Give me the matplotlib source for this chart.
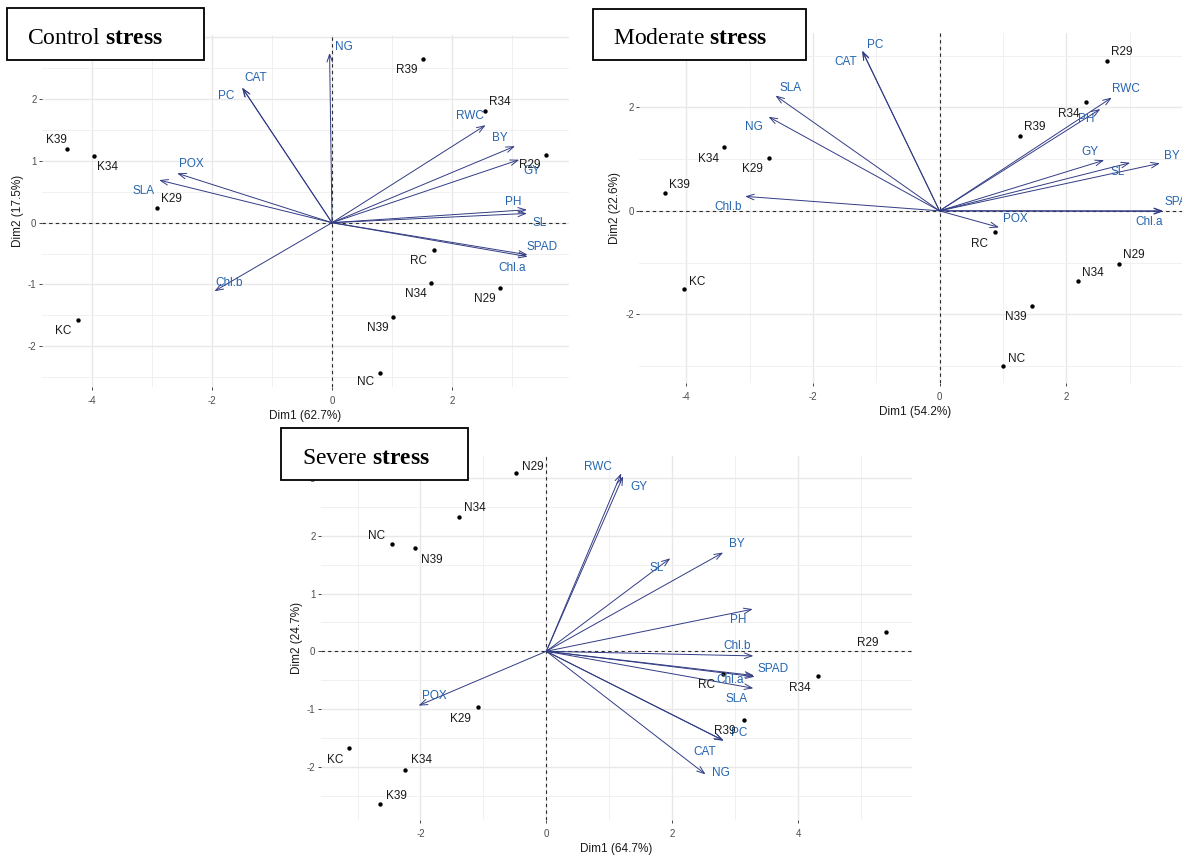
import numpy as np
import matplotlib.pyplot as plt
from matplotlib.patches import Rectangle
from matplotlib.ticker import MultipleLocator

plt.rcParams['font.family'] = 'Liberation Sans'
plt.rcParams['axes.unicode_minus'] = False
plt.rcParams['mathtext.fontset'] = 'custom'
plt.rcParams['mathtext.rm'] = 'Liberation Serif'
plt.rcParams['mathtext.bf'] = 'Liberation Serif:bold'

W, H = 1182, 855

# ---- Control ----
ctrl_obs = ['K39', 'K34', 'K29', 'KC', 'R39', 'R34', 'R29', 'RC', 'N34', 'N29', 'N39', 'NC']
ctrl_obs_x = [-4.42, -3.96, -2.92, -4.23, 1.52, 2.55, 3.57, 1.70, 1.65, 2.80, 1.02, 0.80]
ctrl_obs_y = [1.20, 1.08, 0.24, -1.58, 2.65, 1.81, 1.10, -0.44, -0.97, -1.06, -1.52, -2.44]
ctrl_var = ['NG', 'CAT', 'PC', 'POX', 'SLA', 'Chl.b', 'RWC', 'BY', 'GY', 'PH', 'SL', 'SPAD', 'Chl.a']
ctrl_var_x = [-0.04, -1.49, -1.50, -2.58, -2.88, -1.96, 2.56, 3.05, 3.12, 3.25, 3.25, 3.26, 3.26]
ctrl_var_y = [2.75, 2.18, 2.19, 0.80, 0.69, -1.11, 1.58, 1.24, 1.02, 0.21, 0.15, -0.52, -0.55]

# ---- Moderate ----
mod_obs = ['K34', 'K29', 'K39', 'KC', 'R29', 'R34', 'R39', 'RC', 'N29', 'N34', 'N39', 'NC']
mod_obs_x = [-3.40, -2.70, -4.34, -4.04, 2.64, 2.31, 1.27, 0.88, 2.83, 2.18, 1.46, 1.01]
mod_obs_y = [1.24, 1.03, 0.35, -1.51, 2.90, 2.10, 1.44, -0.41, -1.03, -1.35, -1.84, -3.00]
mod_var = ['PC', 'CAT', 'SLA', 'NG', 'Chl.b', 'RWC', 'PH', 'GY', 'SL', 'BY', 'SPAD', 'Chl.a', 'POX']
mod_var_x = [-1.22, -1.22, -2.59, -2.70, -3.07, 2.72, 2.54, 2.60, 3.01, 3.48, 3.53, 3.53, 0.94]
mod_var_y = [3.10, 3.09, 2.23, 1.82, 0.28, 2.19, 1.97, 0.98, 0.93, 0.92, 0.00, -0.01, -0.32]

# ---- Severe ----
sev_obs = ['N29', 'N34', 'NC', 'N39', 'K29', 'KC', 'K34', 'K39', 'R29', 'R34', 'RC', 'R39']
sev_obs_x = [-0.48, -1.39, -2.45, -2.09, -1.09, -3.14, -2.24, -2.65, 5.39, 4.32, 2.81, 3.14]
sev_obs_y = [3.08, 2.33, 1.86, 1.78, -0.97, -1.68, -2.05, -2.65, 0.33, -0.43, -0.40, -1.19]
sev_var = ['RWC', 'GY', 'BY', 'SL', 'PH', 'Chl.b', 'SPAD', 'Chl.a', 'SLA', 'PC', 'CAT', 'NG', 'POX']
sev_var_x = [1.19, 1.22, 2.81, 1.97, 3.28, 3.29, 3.31, 3.30, 3.29, 2.82, 2.81, 2.53, -2.03]
sev_var_y = [3.08, 3.03, 1.71, 1.61, 0.73, -0.08, -0.44, -0.42, -0.64, -1.55, -1.54, -2.13, -0.94]

# label offsets in pixels (dx, dy up)
ctrl_obs_off = [(-10, 9), (13, -11), (15, 9), (-15, -11), (-16, -11), (15, 9), (-16, -10),
                (-15, -11), (-15, -11), (-15, -11), (-15, -11), (-14, -9)]
ctrl_var_off = [(14, 6), (13, 10), (-16, -9), (14, 9), (-16, -11), (15, 8), (-16, 9), (-15, 8),
                (13, -11), (-14, 8), (13, -10), (14, 8), (-15, -11)]
mod_obs_off = [(-16, -12), (-16, -11), (15, 8), (14, 7), (15, 9), (-17, -12), (15, 9),
               (-16, -12), (15, 9), (15, 8), (-16, -11), (13, 7)]
mod_var_off = [(13, 6), (-17, -11), (15, 8), (-15, -10), (-17, -11), (14, 9), (-14, -10),
               (-14, 8), (-13, -9), (12, 7), (17, 9), (-14, -11), (16, 8)]
sev_obs_off = [(17, 6), (16, 9), (-16, 8), (17, -12), (-17, -12), (-14, -12), (16, 10), (17, 8),
               (-18, -11), (-18, -12), (-17, -11), (-19, -11)]
sev_var_off = [(-23, 6), (16, -11), (14, 8), (-14, -10), (-15, -11), (-16, 10), (18, 8), (-24, -4),
               (-17, -11), (15, 8), (-18, -12), (15, 1), (16, 10)]

ARROW = '#323c84'
VARTXT = '#2464b0'
PX = 72 / 100


def biplot(ax, obs, ox, oy, ooff, var, vx, vy, voff, xlim, ylim, xmaj, ymaj, xlab, ylab):
    ax.set_xlim(*xlim)
    ax.set_ylim(*ylim)
    ax.xaxis.set_major_locator(MultipleLocator(xmaj))
    ax.xaxis.set_minor_locator(MultipleLocator(xmaj / 2))
    ax.yaxis.set_major_locator(MultipleLocator(ymaj))
    ax.yaxis.set_minor_locator(MultipleLocator(ymaj / 2))
    ax.grid(which='major', color='#e8e8e8', lw=1.0)
    ax.grid(which='minor', color='#f0f0f0', lw=0.7)
    ax.set_axisbelow(True)
    for s in ax.spines.values():
        s.set_visible(False)
    ax.tick_params(which='major', length=2.5, width=0.7, color='#444444',
                   labelsize=7, labelcolor='#4d4d4d')
    ax.tick_params(axis='x', pad=4)
    ax.tick_params(axis='y', pad=1.5)
    ax.tick_params(which='minor', length=0)
    ax.axhline(0, color='#2a2a2a', lw=0.8, ls=(0, (3, 3)), zorder=1)
    ax.axvline(0, color='#2a2a2a', lw=0.8, ls=(0, (3, 3)), zorder=1)

    for name, x, y, (dx, dy) in zip(var, vx, vy, voff):
        ax.annotate('', xy=(x, y), xytext=(0, 0),
                    arrowprops=dict(arrowstyle='->,head_length=0.55,head_width=0.2',
                                    color=ARROW, lw=0.7, shrinkA=0, shrinkB=0), zorder=2)
        ax.annotate(name, (x, y), xytext=(dx * PX, dy * PX), textcoords='offset points',
                    ha='center', va='center', fontsize=8.5, color=VARTXT, zorder=4)

    ax.scatter(ox, oy, s=10, color='black', zorder=3, linewidths=0)
    for name, x, y, (dx, dy) in zip(obs, ox, oy, ooff):
        ax.annotate(name, (x, y), xytext=(dx * PX, dy * PX), textcoords='offset points',
                    ha='center', va='center', fontsize=8.5, color='#1a1a1a', zorder=4)

    ax.set_xlabel(xlab, fontsize=8.5, color='#1a1a1a', labelpad=3)
    ax.set_ylabel(ylab, fontsize=8.5, color='#1a1a1a', labelpad=3)


def title_box(fig, left, top, right, bottom, text_x, baseline, label):
    fig.add_artist(Rectangle((left / W, 1 - bottom / H), (right - left) / W, (bottom - top) / H,
                             transform=fig.transFigure, facecolor='white', edgecolor='black',
                             lw=1.3, zorder=5))
    fig.text(text_x / W, 1 - baseline / H, label, fontsize=17, va='baseline', ha='left',
             family='Liberation Serif', zorder=6)


fig = plt.figure(figsize=(W / 100, H / 100), dpi=100)

ax1 = fig.add_axes([42 / W, 1 - 387 / H, 527 / W, 352 / H])
biplot(ax1, ctrl_obs, ctrl_obs_x, ctrl_obs_y, ctrl_obs_off,
       ctrl_var, ctrl_var_x, ctrl_var_y, ctrl_var_off,
       (-4.833, 3.95), (-2.661, 3.04), 2, 1, 'Dim1 (62.7%)', 'Dim2 (17.5%)')

ax2 = fig.add_axes([639.3 / W, 1 - 383 / H, 551 / W, 350 / H])
biplot(ax2, mod_obs, mod_obs_x, mod_obs_y, mod_obs_off,
       mod_var, mod_var_x, mod_var_y, mod_var_off,
       (-4.74, 3.96), (-3.33, 3.44), 2, 2, 'Dim1 (54.2%)', 'Dim2 (22.6%)')

ax3 = fig.add_axes([321 / W, 1 - 820 / H, 591 / W, 364 / H])
biplot(ax3, sev_obs, sev_obs_x, sev_obs_y, sev_obs_off,
       sev_var, sev_var_x, sev_var_y, sev_var_off,
       (-3.58, 5.81), (-2.92, 3.38), 2, 1, 'Dim1 (64.7%)', 'Dim2 (24.7%)')

title_box(fig, 7, 8, 204, 60.5, 27, 43.5, r'Control $\mathbf{stress}$')
title_box(fig, 593, 9, 805.5, 60.5, 613, 43.5, r'Moderate $\mathbf{stress}$')
title_box(fig, 281, 428.5, 468, 480.5, 302, 463.5, r'Severe $\mathbf{stress}$')

fig.savefig('out.png', dpi=100)
